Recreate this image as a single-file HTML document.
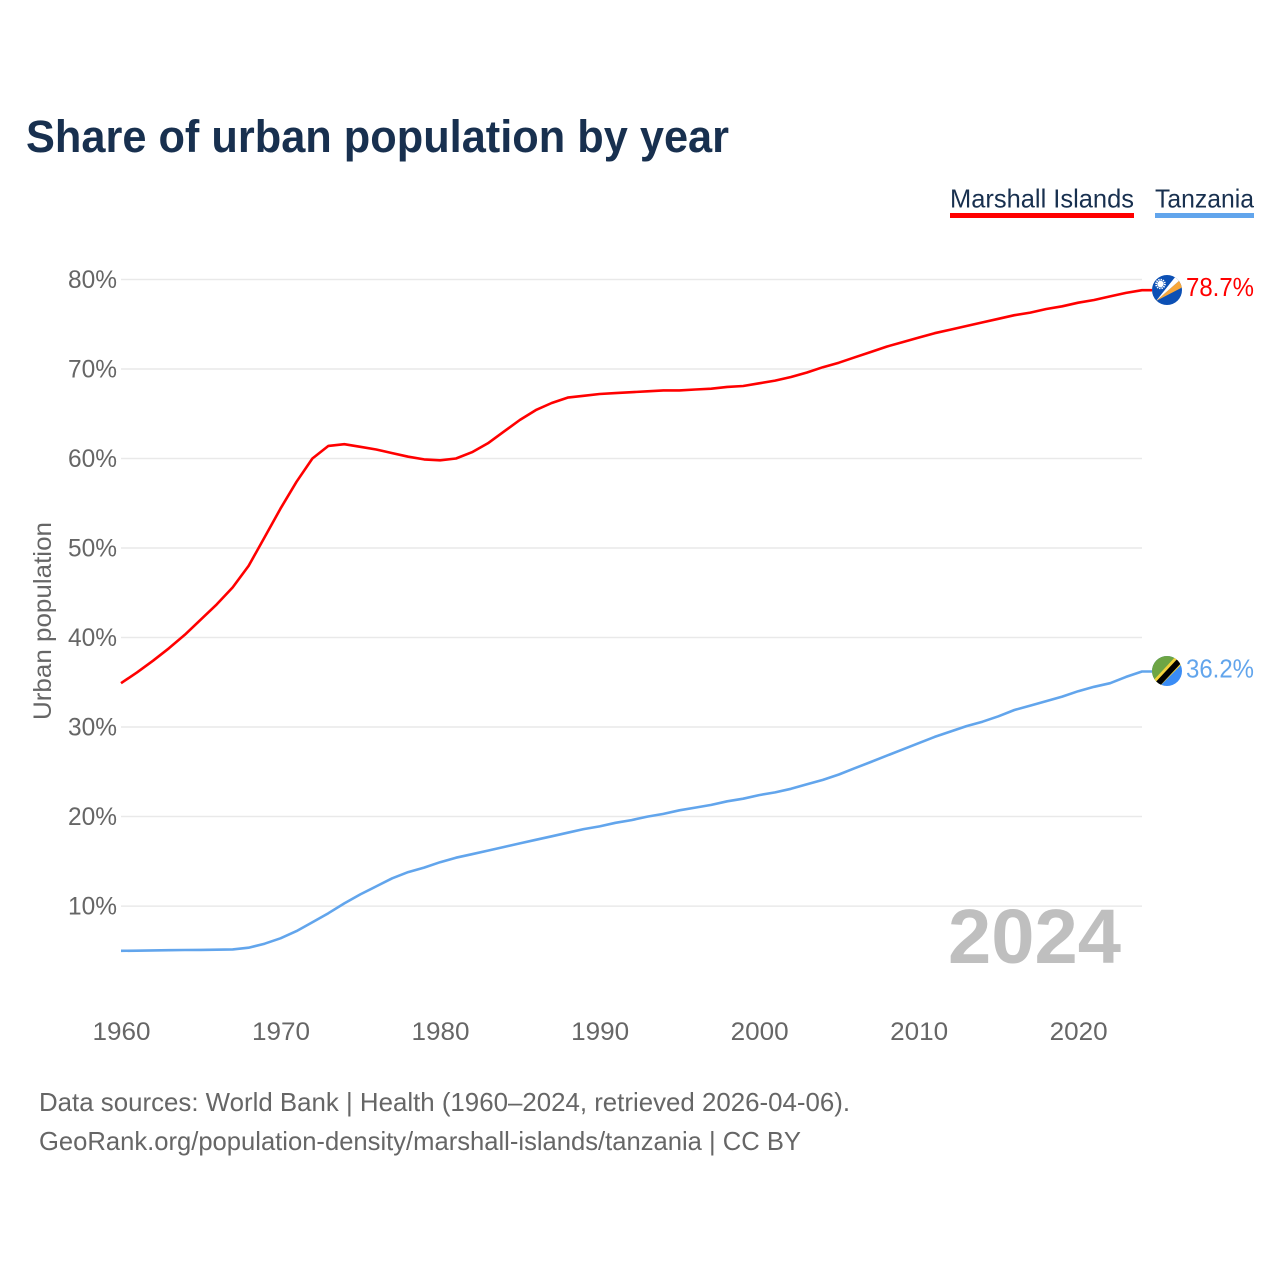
<!DOCTYPE html>
<html><head><meta charset="utf-8"><title>Share of urban population by year</title>
<style>
html,body{margin:0;padding:0;background:#fff}
svg{display:block}
text{font-family:"Liberation Sans",sans-serif}
</style></head>
<body>
<svg id="chart" xmlns="http://www.w3.org/2000/svg" width="1280" height="1280" viewBox="0 0 1280 1280">
<rect width="1280" height="1280" fill="#fff"/>
<text x="26" y="152" font-size="45" font-weight="700" fill="#18304f" textLength="703" lengthAdjust="spacingAndGlyphs">Share of urban population by year</text>
<g>
<text x="950" y="207.500" font-size="26" fill="#18304f" textLength="184" lengthAdjust="spacingAndGlyphs">Marshall Islands</text>
<rect x="950" y="213" width="184" height="5" fill="#ff0000"/>
</g>
<g>
<text x="1155" y="207.500" font-size="26" fill="#18304f" textLength="99" lengthAdjust="spacingAndGlyphs">Tanzania</text>
<rect x="1155" y="213" width="99" height="5" fill="#62a5ec"/>
</g>
<g id="grid"></g>
<g id="yticks"></g>
<g id="xticks"></g>
<text transform="translate(51,621) rotate(-90)" text-anchor="middle" font-size="25" fill="#666" textLength="198" lengthAdjust="spacingAndGlyphs">Urban population</text>
<text x="1121" y="963" text-anchor="end" font-size="77" font-weight="700" fill="#bfbfbf" textLength="173" lengthAdjust="spacingAndGlyphs">2024</text>
<g id="series"></g>
<defs>
<clipPath id="clip-mh"><circle cx="1167" cy="290" r="15"/></clipPath>
<clipPath id="clip-tz"><circle cx="1167" cy="671" r="15"/></clipPath>
</defs>
<g clip-path="url(#clip-mh)">
<rect x="1150" y="273" width="34" height="34" fill="#0c50b4"/>
<polygon points="1156,301 1180,280 1183,287" fill="#f7a73a"/>
<polygon points="1156,301 1176,276 1180,280" fill="#fff"/>
<circle cx="1160.500" cy="284" r="3.200" fill="#fff"/>
<circle cx="1160.500" cy="284" r="4.400" fill="none" stroke="#fff" stroke-width="1.800" stroke-dasharray="1.300 1"/>
</g>
<g clip-path="url(#clip-tz)">
<rect x="1150" y="654" width="34" height="34" fill="#3a8cf5"/>
<polygon points="1150,654 1180,654 1150,686" fill="#6da544"/>
<polygon points="1150,684 1178,654 1186,660 1156,690" fill="#f2d23c"/>
<polygon points="1152,686 1180,656 1184,660 1156,690" fill="#000"/>
</g>
<text x="1186" y="296" font-size="26" fill="#ff0000" textLength="68" lengthAdjust="spacingAndGlyphs">78.7%</text>
<text x="1186" y="677.500" font-size="26" fill="#62a5ec" textLength="68" lengthAdjust="spacingAndGlyphs">36.2%</text>
<text x="39" y="1111" font-size="26" fill="#666" textLength="811" lengthAdjust="spacingAndGlyphs">Data sources: World Bank | Health (1960–2024, retrieved 2026-04-06).</text>
<text x="39" y="1150" font-size="26" fill="#666" textLength="762" lengthAdjust="spacingAndGlyphs">GeoRank.org/population-density/marshall-islands/tanzania | CC BY</text>
</svg>
<script>
const years = [1960,1961,1962,1963,1964,1965,1966,1967,1968,1969,1970,1971,1972,1973,1974,1975,1976,1977,1978,1979,1980,1981,1982,1983,1984,1985,1986,1987,1988,1989,1990,1991,1992,1993,1994,1995,1996,1997,1998,1999,2000,2001,2002,2003,2004,2005,2006,2007,2008,2009,2010,2011,2012,2013,2014,2015,2016,2017,2018,2019,2020,2021,2022,2023,2024];
const marshallIslands = [34.9,36.1,37.4,38.8,40.3,42.0,43.7,45.6,48.0,51.2,54.4,57.4,60.0,61.4,61.6,61.3,61.0,60.6,60.2,59.9,59.8,60.0,60.7,61.7,63.0,64.3,65.4,66.2,66.8,67.0,67.2,67.3,67.4,67.5,67.6,67.6,67.7,67.8,68.0,68.1,68.4,68.7,69.1,69.6,70.2,70.7,71.3,71.9,72.5,73.0,73.5,74.0,74.4,74.8,75.2,75.6,76.0,76.3,76.7,77.0,77.4,77.7,78.1,78.5,78.8];
const tanzania = [5.0,5.02,5.05,5.07,5.09,5.11,5.13,5.16,5.35,5.8,6.4,7.2,8.2,9.2,10.3,11.3,12.2,13.1,13.8,14.3,14.9,15.4,15.8,16.2,16.6,17.0,17.4,17.8,18.2,18.6,18.9,19.3,19.6,20.0,20.3,20.7,21.0,21.3,21.7,22.0,22.4,22.7,23.1,23.6,24.1,24.7,25.4,26.1,26.8,27.5,28.2,28.9,29.5,30.1,30.6,31.2,31.9,32.4,32.9,33.4,34.0,34.5,34.9,35.6,36.2];
const yTickValues = [10,20,30,40,50,60,70,80];
const yTickLabels = ["10%","20%","30%","40%","50%","60%","70%","80%"];
const xTickValues = [1960,1970,1980,1990,2000,2010,2020];
const xTickLabels = ["1960","1970","1980","1990","2000","2010","2020"];

const NS = 'http://www.w3.org/2000/svg';
function xScale(year){ return 121 + (year - 1960) * 15.953; }
function yScale(v){ return 995.6 - v * 8.952; }
function make(tag, attrs, parent){
  const el = document.createElementNS(NS, tag);
  for (const k in attrs) el.setAttribute(k, attrs[k]);
  parent.appendChild(el);
  return el;
}
const grid = document.getElementById('grid');
const yticks = document.getElementById('yticks');
const xticks = document.getElementById('xticks');
const seriesG = document.getElementById('series');

yTickValues.forEach(function(v, i){
  const line = make('line', {x1:121, x2:1142, y1:yScale(v), y2:yScale(v), stroke:'#e9e9e9', 'stroke-width':1.5}, grid);
  
  
  const t = make('text', {x:117, y:yScale(v)+8.5, 'text-anchor':'end', 'font-size':25, fill:'#666', textLength:49, lengthAdjust:'spacingAndGlyphs'}, yticks);
  t.textContent = yTickLabels[i];
  
  
});
xTickValues.forEach(function(v, i){
  const t = make('text', {x:xScale(v)+0.5, y:1040, 'text-anchor':'middle', 'font-size':25, fill:'#666', textLength:58, lengthAdjust:'spacingAndGlyphs'}, xticks);
  t.textContent = xTickLabels[i];
  
  
});
function drawSeries(values, color, name){
  const pts = values.map(function(v, i){ return xScale(years[i]).toFixed(1) + ',' + yScale(v).toFixed(1); });
  const last = values[values.length - 1];
  pts.push('1152,' + yScale(last).toFixed(1));
  const line = make('polyline', {points:pts.join(' '), fill:'none', stroke:color, 'stroke-width':2.6, 'stroke-linejoin':'round'}, seriesG);
  
  
}
drawSeries(marshallIslands, '#ff0000', 'line-marshall-islands');
drawSeries(tanzania, '#62a5ec', 'line-tanzania');
</script>
</body></html>
